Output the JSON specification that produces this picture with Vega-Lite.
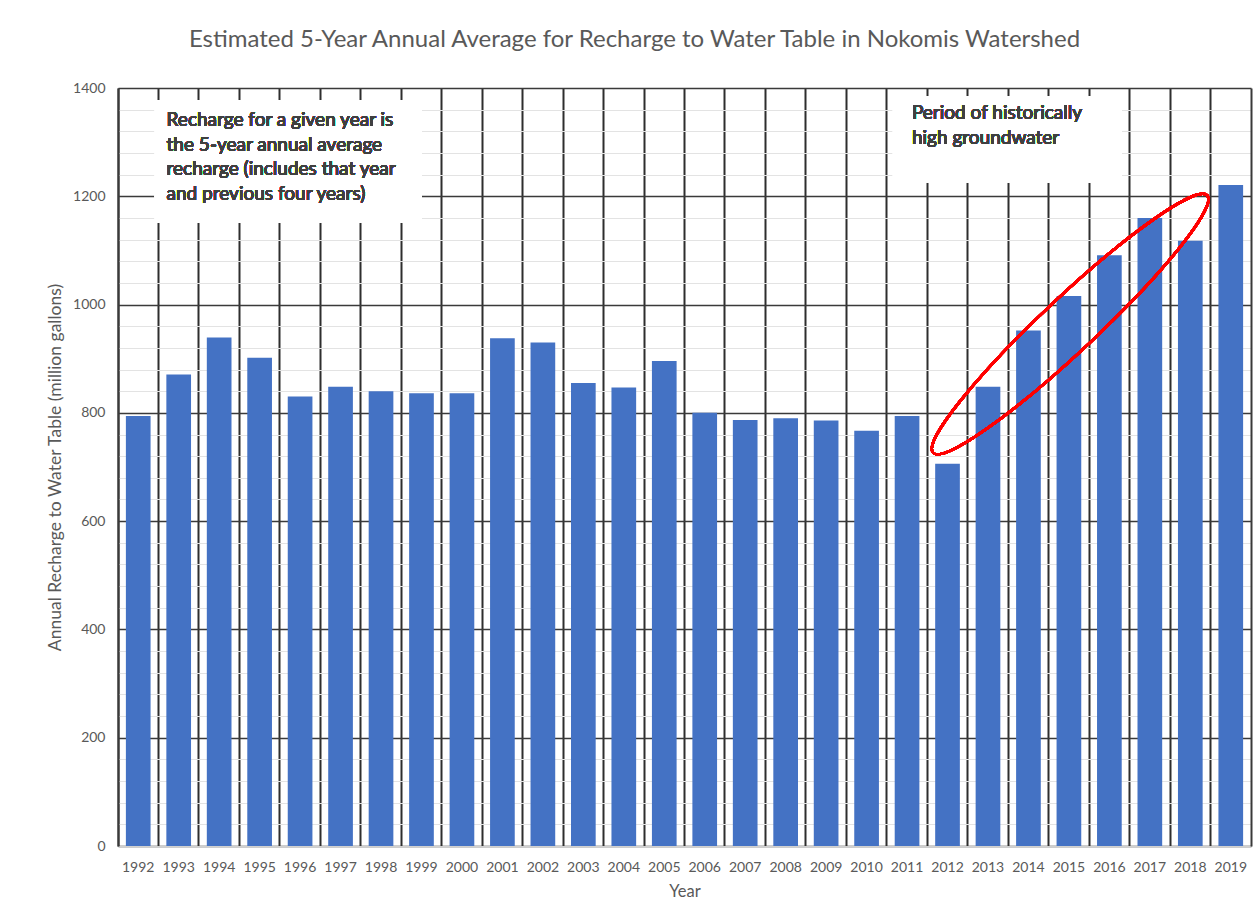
{
  "$schema": "https://vega.github.io/schema/vega-lite/v6.json",
  "autosize": "none",
  "width": 1133,
  "height": 758,
  "padding": {"left": 118, "top": 88, "right": 3, "bottom": 63},
  "background": "white",
  "config": {
    "font": "Lato",
    "view": {"stroke": null},
    "axis": {"labelFont": "Lato", "titleFont": "Lato", "labelColor": "#595959", "titleColor": "#595959", "titleFontWeight": "normal"}
  },
  "title": {
    "text": "Estimated 5-Year Annual Average for Recharge to Water Table in Nokomis Watershed",
    "fontSize": 24,
    "fontWeight": "normal",
    "color": "#595959",
    "font": "Lato",
    "anchor": "middle",
    "dx": -50,
    "offset": 29
  },
  "data": {
    "values": [
      {"Year": 1992, "Recharge": 794},
      {"Year": 1993, "Recharge": 871},
      {"Year": 1994, "Recharge": 939},
      {"Year": 1995, "Recharge": 902},
      {"Year": 1996, "Recharge": 830},
      {"Year": 1997, "Recharge": 848},
      {"Year": 1998, "Recharge": 840},
      {"Year": 1999, "Recharge": 836},
      {"Year": 2000, "Recharge": 836},
      {"Year": 2001, "Recharge": 938},
      {"Year": 2002, "Recharge": 930},
      {"Year": 2003, "Recharge": 855},
      {"Year": 2004, "Recharge": 847},
      {"Year": 2005, "Recharge": 896},
      {"Year": 2006, "Recharge": 800},
      {"Year": 2007, "Recharge": 787},
      {"Year": 2008, "Recharge": 790},
      {"Year": 2009, "Recharge": 786},
      {"Year": 2010, "Recharge": 767},
      {"Year": 2011, "Recharge": 794},
      {"Year": 2012, "Recharge": 706},
      {"Year": 2013, "Recharge": 848},
      {"Year": 2014, "Recharge": 952},
      {"Year": 2015, "Recharge": 1016},
      {"Year": 2016, "Recharge": 1091},
      {"Year": 2017, "Recharge": 1160},
      {"Year": 2018, "Recharge": 1118},
      {"Year": 2019, "Recharge": 1221}
    ]
  },
  "resolve": {"axis": {"y": "independent"}},
  "layer": [
    {
      "mark": {"type": "rule", "opacity": 0},
      "encoding": {
        "y": {
          "datum": 0,
          "type": "quantitative",
          "axis": {
            "orient": "right",
            "values": [40, 80, 120, 160, 240, 280, 320, 360, 440, 480, 520, 560, 640, 680, 720, 760, 840, 880, 920, 960, 1040, 1080, 1120, 1160, 1240, 1280, 1320, 1360],
            "labels": false,
            "ticks": false,
            "title": null,
            "grid": true,
            "gridColor": "#e3e3e3",
            "gridWidth": 1,
            "domain": true,
            "domainColor": "#3a3a3a",
            "domainWidth": 2
          }
        }
      }
    },
    {
      "mark": {"type": "bar", "color": "#4472C4", "width": {"band": 0.61}},
      "encoding": {
        "x": {
          "field": "Year",
          "type": "ordinal",
          "scale": {"paddingInner": 0, "paddingOuter": 0, "domain": [1992, 1993, 1994, 1995, 1996, 1997, 1998, 1999, 2000, 2001, 2002, 2003, 2004, 2005, 2006, 2007, 2008, 2009, 2010, 2011, 2012, 2013, 2014, 2015, 2016, 2017, 2018, 2019]},
          "axis": {
            "title": "Year",
            "titleFontSize": 16.5,
            "titlePadding": 9,
            "labelFontSize": 14,
            "labelAngle": 0,
            "labelPadding": 14,
            "ticks": false,
            "grid": true,
            "bandPosition": 0,
            "gridColor": "#2e2e2e",
            "gridWidth": 2,
            "domainColor": "#d0d0d0",
            "domainWidth": 1
          }
        },
        "y": {
          "field": "Recharge",
          "type": "quantitative",
          "scale": {"domain": [0, 1400], "nice": false},
          "axis": {
            "orient": "left",
            "values": [0, 200, 400, 600, 800, 1000, 1200, 1400],
            "format": "d",
            "title": "Annual Recharge to Water Table (million gallons)",
            "titleFontSize": 17.5,
            "titlePadding": 8,
            "labelFontSize": 14,
            "labelPadding": 13,
            "ticks": false,
            "grid": true,
            "gridColor": "#3a3a3a",
            "gridWidth": 1.5,
            "domainColor": "#3a3a3a",
            "domainWidth": 2
          }
        }
      }
    },
    {
      "mark": {"type": "rect", "fill": "white"},
      "encoding": {
        "x": {"datum": 1992, "type": "ordinal", "bandPosition": 0.91},
        "x2": {"datum": 1999, "bandPosition": 0.51},
        "y": {"datum": 1378, "type": "quantitative", "axis": null},
        "y2": {"datum": 1151}
      }
    },
    {
      "mark": {"type": "rect", "fill": "white"},
      "encoding": {
        "x": {"datum": 2011, "type": "ordinal", "bandPosition": 0.15},
        "x2": {"datum": 2016, "bandPosition": 0.81},
        "y": {"datum": 1385, "type": "quantitative", "axis": null},
        "y2": {"datum": 1226}
      }
    },
    {
      "mark": {"type": "text", "align": "left", "baseline": "alphabetic", "font": "Lato", "fontSize": 19, "fontWeight": "normal", "lineHeight": 24.7, "color": "#404040",
        "text": ["Recharge for a given year is", "the 5-year annual average", "recharge (includes that year", "and previous four years)"]},
      "encoding": {
        "x": {"datum": 1993, "type": "ordinal", "bandPosition": 0.2},
        "y": {"datum": 1330, "type": "quantitative", "axis": null}
      }
    },
    {
      "mark": {"type": "text", "align": "left", "baseline": "alphabetic", "font": "Lato", "fontSize": 19, "fontWeight": "normal", "lineHeight": 25, "color": "#404040",
        "text": ["Period of historically", "high groundwater"]},
      "encoding": {
        "x": {"datum": 2011, "type": "ordinal", "bandPosition": 0.62},
        "y": {"datum": 1343, "type": "quantitative", "axis": null}
      }
    },
    {
      "mark": {"type": "point", "shape": "M -1 0 A 1 0.144 0 1 0 1 0 A 1 0.144 0 1 0 -1 0 Z", "size": 141376, "angle": 316.8, "filled": false, "stroke": "#ff0000", "strokeWidth": 2.5, "opacity": 1},
      "encoding": {
        "x": {"datum": 2015, "type": "ordinal", "bandPosition": 0.53},
        "y": {"datum": 964, "type": "quantitative", "axis": null}
      }
    }
  ]
}
